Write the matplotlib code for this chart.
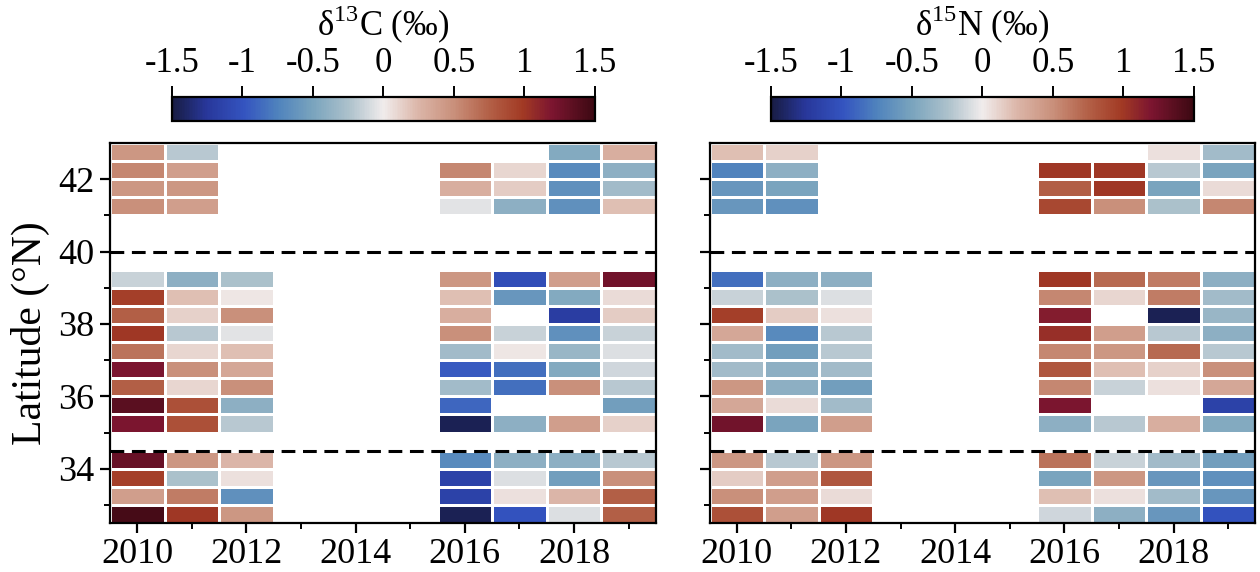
import numpy as np
import matplotlib
matplotlib.use("Agg")
import matplotlib.pyplot as plt
from matplotlib.colors import LinearSegmentedColormap
from matplotlib.ticker import FuncFormatter

plt.rcParams['font.family'] = ['Liberation Serif', 'DejaVu Serif']
plt.rcParams['mathtext.fontset'] = 'custom'
plt.rcParams['mathtext.rm'] = 'Liberation Serif'
plt.rcParams['axes.unicode_minus'] = False

N = np.nan

years = [2010, 2011, 2012, 2013, 2014, 2015, 2016, 2017, 2018, 2019]
# latitude bands, 0.5 degree each, listed north to south
lat_centers = [42.75, 42.25, 41.75, 41.25, 40.75, 40.25, 39.75,
               39.25, 38.75, 38.25, 37.75, 37.25, 36.75, 36.25, 35.75, 35.25,
               34.75, 34.25, 33.75, 33.25, 32.75]

# carbon isotope anomaly per band (columns = years)
d13c = [
    [0.45, -0.2, N, N, N, N, N, N, -0.45, 0.3],
    [0.55, 0.4, N, N, N, N, 0.55, 0.1, -0.7, -0.4],
    [0.45, 0.45, N, N, N, N, 0.3, 0.15, -0.65, -0.3],
    [0.5, 0.4, N, N, N, N, -0.05, -0.4, -0.65, 0.2],
    [N, N, N, N, N, N, N, N, N, N],
    [N, N, N, N, N, N, N, N, N, N],
    [N, N, N, N, N, N, N, N, N, N],
    [-0.15, -0.4, -0.25, N, N, N, 0.45, -1.05, 0.4, 1.25],
    [0.95, 0.2, 0.03, N, N, N, 0.2, -0.6, -0.45, 0.08],
    [0.75, 0.12, 0.5, N, N, N, 0.3, N, -1.2, 0.15],
    [1.0, -0.2, -0.05, N, N, N, 0.5, -0.15, -0.65, -0.15],
    [0.65, 0.1, 0.2, N, N, N, -0.3, 0.03, -0.35, -0.08],
    [1.2, 0.5, 0.35, N, N, N, -0.95, -0.85, -0.45, -0.12],
    [0.75, 0.1, 0.5, N, N, N, -0.3, -0.85, 0.5, -0.2],
    [1.35, 0.85, -0.4, N, N, N, -0.9, N, N, -0.55],
    [1.2, 0.85, -0.2, N, N, N, -1.45, -0.4, 0.4, 0.12],
    [N, N, N, N, N, N, N, N, N, N],
    [1.3, 0.45, 0.25, N, N, N, -0.7, -0.4, -0.4, -0.2],
    [0.95, -0.25, 0.05, N, N, N, -1.15, -0.08, -0.55, 0.5],
    [0.4, 0.6, -0.65, N, N, N, -1.15, 0.05, 0.25, 0.75],
    [1.45, 1.0, 0.45, N, N, N, -1.45, -1.0, -0.08, 0.75],
]

# nitrogen isotope anomaly per band (columns = years)
d15n = [
    [0.2, 0.12, N, N, N, N, N, N, 0.05, -0.3],
    [-0.75, -0.4, N, N, N, N, 1.0, 1.0, -0.2, -0.5],
    [-0.6, -0.5, N, N, N, N, 0.75, 1.0, -0.5, 0.08],
    [-0.6, -0.65, N, N, N, N, 0.9, 0.5, -0.25, 0.55],
    [N, N, N, N, N, N, N, N, N, N],
    [N, N, N, N, N, N, N, N, N, N],
    [N, N, N, N, N, N, N, N, N, N],
    [-0.85, -0.4, -0.4, N, N, N, 1.0, 0.7, 0.6, -0.4],
    [-0.15, -0.25, -0.08, N, N, N, 0.55, 0.1, 0.6, -0.3],
    [0.95, 0.15, 0.05, N, N, N, 1.15, N, -1.45, -0.35],
    [0.35, -0.7, -0.2, N, N, N, 1.05, 0.4, -0.2, -0.4],
    [-0.3, -0.55, -0.2, N, N, N, 0.55, 0.45, 0.7, -0.2],
    [-0.3, -0.4, -0.3, N, N, N, 0.8, 0.2, 0.12, 0.5],
    [0.45, -0.4, -0.55, N, N, N, 0.55, -0.15, 0.05, 0.35],
    [0.35, 0.08, -0.3, N, N, N, 1.2, N, N, -1.15],
    [1.25, -0.5, 0.4, N, N, N, -0.4, -0.2, 0.3, -0.45],
    [N, N, N, N, N, N, N, N, N, N],
    [0.45, -0.2, 0.45, N, N, N, 0.65, -0.15, -0.3, -0.55],
    [0.15, 0.4, 0.8, N, N, N, -0.5, 0.45, -0.6, -0.65],
    [0.5, 0.4, 0.08, N, N, N, 0.2, 0.05, -0.3, -0.6],
    [0.85, 0.4, 1.0, N, N, N, -0.12, -0.4, -0.6, -1.0],
]

cbar_labels = [r'δ$^{13}$C (‰)', r'δ$^{15}$N (‰)']
front_lats = [40.0, 34.5]

# diverging blue-white-red map in the style of cmocean "balance"
balance = LinearSegmentedColormap.from_list('balance_like', [
    (0.00, '#181c43'),
    (0.08, '#28379a'),
    (0.17, '#3454c0'),
    (0.25, '#4f83bd'),
    (0.33, '#78a3bd'),
    (0.42, '#aec2cc'),
    (0.50, '#f1ecec'),
    (0.58, '#dcb7aa'),
    (0.67, '#c88e79'),
    (0.75, '#b36047'),
    (0.83, '#a23a24'),
    (0.90, '#7c1530'),
    (1.00, '#3c0912'),
])

x_edges = np.arange(years[0] - 0.5, years[-1] + 1.0, 1.0)
y_edges = np.concatenate([[lat_centers[0] + 0.25], np.array(lat_centers) - 0.25])

fig = plt.figure(figsize=(12.6, 5.72), dpi=100)
ax_pos = [[0.0873, 0.0857, 0.4333, 0.6643], [0.5631, 0.0857, 0.4333, 0.6643]]
cax_pos = [[0.1365, 0.7885, 0.3357, 0.042], [0.6119, 0.7885, 0.3357, 0.042]]

for i, data in enumerate([d13c, d15n]):
    ax = fig.add_axes(ax_pos[i])
    vals = np.ma.masked_invalid(np.array(data, dtype=float))
    mesh = ax.pcolormesh(x_edges, y_edges, vals, cmap=balance, vmin=-1.5, vmax=1.5,
                         edgecolors='white', linewidth=1.0)
    for lat in front_lats:
        ax.axhline(lat, color='black', lw=2.2, ls=(0, (4.5, 2.5)), zorder=5)

    ax.set_xlim(x_edges[0], x_edges[-1])
    ax.set_ylim(32.5, 43)
    ax.set_xticks([2010, 2012, 2014, 2016, 2018])
    ax.set_xticks(years, minor=True)
    ax.set_yticks([34, 36, 38, 40, 42])
    ax.set_yticks([33, 35, 37, 39, 41], minor=True)
    ax.tick_params(which='major', length=7, width=1.6, labelsize=26, pad=4)
    ax.tick_params(which='minor', length=4, width=1.4)
    for sp in ax.spines.values():
        sp.set_linewidth(1.6)
    if i == 0:
        ax.set_ylabel('Latitude (°N)', fontsize=30, labelpad=6)
    else:
        ax.set_yticklabels([])

    cax = fig.add_axes(cax_pos[i])
    cb = fig.colorbar(mesh, cax=cax, orientation='horizontal')
    cb.set_ticks([-1.5, -1, -0.5, 0, 0.5, 1, 1.5])
    cb.ax.xaxis.set_major_formatter(FuncFormatter(lambda v, p: '%g' % v))
    cax.xaxis.set_ticks_position('top')
    cax.xaxis.set_label_position('top')
    cax.tick_params(length=8, width=1.4, labelsize=25, pad=4)
    cb.outline.set_linewidth(1.6)
    cb.set_label(cbar_labels[i], fontsize=25, labelpad=8)

fig.savefig('out.png', dpi=100)
